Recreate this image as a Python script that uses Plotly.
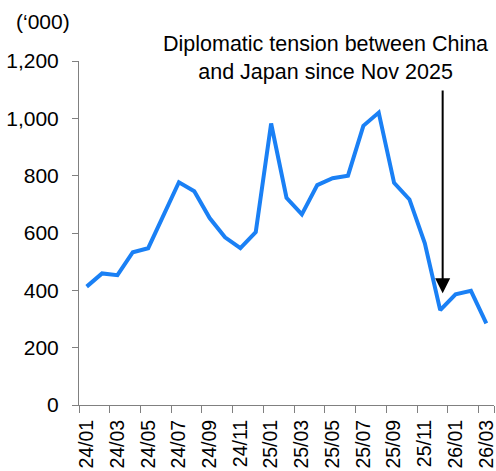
import plotly.graph_objects as go

# Monthly arrivals ('000), Jan 2024 - Mar 2026
months = [
    "24/01", "24/02", "24/03", "24/04", "24/05", "24/06", "24/07", "24/08", "24/09",
    "24/10", "24/11", "24/12", "25/01", "25/02", "25/03", "25/04", "25/05", "25/06",
    "25/07", "25/08", "25/09", "25/10", "25/11", "25/12", "26/01", "26/02", "26/03",
]
arrivals = [
    413, 459, 453, 533, 547, 660, 777, 746, 652,
    585, 547, 603, 982, 723, 665, 767, 791, 800,
    974, 1020, 775, 717, 564, 331, 386, 398, 285,
]
tick_labels = months[::2]
y_ticks = [0, 200, 400, 600, 800, 1000, 1200]
y_tick_text = ["0", "200", "400", "600", "800", "1,000", "1,200"]

FONT = "Liberation Sans, Arial, sans-serif"
AXIS_GREY = "#808080"

fig = go.Figure()
fig.add_trace(go.Scatter(
    x=months, y=arrivals, mode="lines",
    line=dict(color="#1a80f5", width=4),
    hoverinfo="skip",
))

fig.update_layout(
    width=496, height=471,
    margin=dict(l=79, r=2, t=61, b=66),
    paper_bgcolor="white", plot_bgcolor="white",
    showlegend=False,
    font=dict(family=FONT, size=21, color="black"),
    xaxis=dict(
        type="category",
        categoryorder="array", categoryarray=months,
        range=[-0.5, len(months) - 0.5],
        tickmode="array", tickvals=tick_labels, ticktext=tick_labels,
        tickson="boundaries",
        ticks="outside", ticklen=7, tickwidth=1, tickcolor=AXIS_GREY,
        tickangle=-90,
        showline=True, linecolor=AXIS_GREY, linewidth=1,
        showgrid=False, zeroline=False,
        tickfont=dict(family=FONT, size=19.5, color="black"),
        ticklabelstandoff=6,
        automargin=False,
    ),
    yaxis=dict(
        range=[0, 1200],
        tickmode="array", tickvals=y_ticks, ticktext=y_tick_text,
        ticks="outside", ticklen=6, tickwidth=1, tickcolor=AXIS_GREY,
        showline=True, linecolor=AXIS_GREY, linewidth=1,
        showgrid=False, zeroline=False,
        tickfont=dict(family=FONT, size=21, color="black"),
        ticklabelstandoff=9,
        automargin=False,
    ),
)

# Unit label above the value axis
fig.add_annotation(
    text="(‘000)", xref="paper", yref="paper",
    x=-0.087, y=1.116, xanchor="center", yanchor="middle",
    showarrow=False, font=dict(family=FONT, size=21, color="black"),
)

# Event callout with arrow pointing at Dec 2025
fig.add_annotation(
    text="Diplomatic tension between China<br>and Japan since Nov 2025",
    xref="paper", yref="paper", x=0.593, y=1.009,
    xanchor="center", yanchor="middle", align="center",
    showarrow=False, font=dict(family=FONT, size=21.5, color="black"),
)
fig.add_annotation(
    x=23.16, y=390, xref="x", yref="y",
    ax=23.16, ay=1102, axref="x", ayref="y",
    text="", showarrow=True,
    arrowhead=2, arrowsize=1.5, arrowwidth=2, arrowcolor="black",
)

fig.write_html("out.html")
